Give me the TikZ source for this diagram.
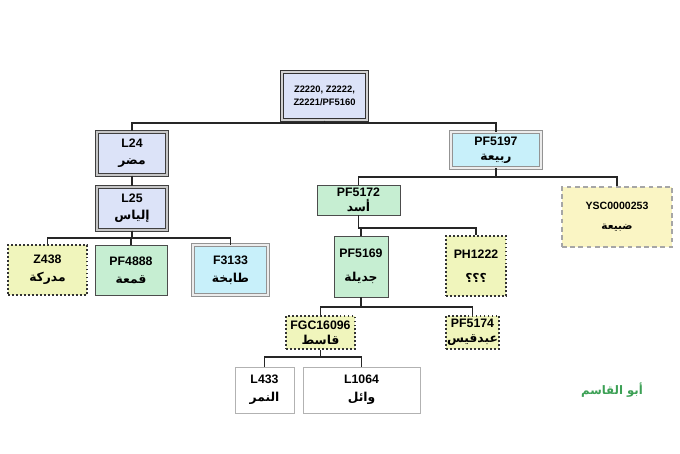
\documentclass[tikz,border=0pt]{standalone}
\usepackage{fontspec}
\setmainfont{Liberation Sans}
\newfontfamily\arabicfont[Script=Arabic]{DejaVu Sans}
\TeXXeTstate=1
\usepackage{tikz}
\newcommand{\arab}[1]{{\arabicfont\bfseries\beginR #1\endR}}
\definecolor{lavfill}{RGB}{220,227,248}
\definecolor{cyanfill}{RGB}{200,240,250}
\definecolor{grnfill}{RGB}{198,238,210}
\definecolor{yelfill}{RGB}{240,245,188}
\definecolor{palefill}{RGB}{250,245,196}
\definecolor{namegreen}{RGB}{60,160,85}
\tikzset{
  bsize/.style 2 args={minimum width=#1*0.03cm, minimum height=#2*0.03cm},
  tag/.style={inner sep=0pt, align=center, font=\bfseries\fontsize{10.5}{12.5}\selectfont},
  rootbox/.style={tag, fill=lavfill, draw=black!80, line width=1pt, double=gray!35, double distance=1.6pt},
  lavbox/.style={tag, fill=lavfill, draw=black!75, line width=1pt, double=gray!45, double distance=1.4pt},
  cyanbox/.style={tag, fill=cyanfill, draw=gray!85, line width=.7pt, double=gray!15, double distance=1.4pt},
  grnbox/.style={tag, fill=grnfill, draw=black!70, line width=.8pt},
  dotbox/.style={tag, fill=yelfill, draw=black!80, line width=1.6pt, dash pattern=on 1.6pt off 1.8pt},
  dashbox/.style={tag, fill=palefill, draw=gray!70, line width=1pt, dash pattern=on 4pt off 3pt},
  plainbox/.style={tag, fill=white, draw=gray!60, line width=.8pt},
  link/.style={draw=black!85, line width=1.1pt}
}
\begin{document}
\begin{tikzpicture}[x=0.03cm, y=-0.03cm]
\useasboundingbox (0,0) rectangle (680,454);
% top
\node[rootbox, bsize={85}{48}, font=\bfseries\fontsize{8}{11}\selectfont] (root) at (324.5,96) {Z2220, Z2222,\\Z2221/PF5160};
% left branch
\node[lavbox, bsize={70}{43}] (l24) at (132,153.5) {L24\\[2pt]\arab{مضر}};
\node[lavbox, bsize={70}{43}] (l25) at (132,208.5) {L25\\[2pt]\arab{إلياس}};
\node[dotbox, bsize={79}{50}] (z438) at (47.5,270) {Z438\\[3pt]\arab{مدركة}};
\node[grnbox, bsize={72}{50}] (pf4888) at (131,270) {PF4888\\[3pt]\arab{قمعة}};
\node[cyanbox, bsize={75}{50}] (f3133) at (230.5,270) {F3133\\[3pt]\arab{طابخة}};
% right branch
\node[cyanbox, bsize={90}{36}] (pf5197) at (496,150) {PF5197\\\arab{ربيعة}};
\node[grnbox, bsize={83}{30}] (pf5172) at (358.5,200) {PF5172\\\arab{أسد}};
\node[dashbox, bsize={110}{60}, font=\bfseries\fontsize{9}{11}\selectfont] (ysc) at (617,217) {YSC0000253\\[6pt]\arab{ضبيعة}};
\node[grnbox, bsize={54}{61}] (pf5169) at (361,266.5) {PF5169\\[8pt]\arab{جديلة}};
\node[dotbox, bsize={60}{60}] (ph1222) at (476,266) {PH1222\\[8pt]\arab{؟؟؟}};
\node[dotbox, bsize={69}{33}] (fgc) at (320.5,332.5) {FGC16096\\\arab{قاسط}};
\node[dotbox, bsize={53}{33}] (pf5174) at (472.5,332.5) {PF5174\\\arab{عبدقيس}};
\node[plainbox, bsize={59}{46}] (l433) at (264.5,390) {L433\\[3pt]\arab{النمر}};
\node[plainbox, bsize={117}{46}] (l1064) at (361.5,390) {L1064\\[3pt]\arab{وائل}};
\node[text=namegreen, font=\bfseries\fontsize{10}{12}\selectfont] (sign) at (612,390) {\arab{أبو القاسم}};
% connectors
\draw[link] (root.south) -- (root.south |- 0,123) -| (l24.north);
\draw[link] (root.south) -- (root.south |- 0,123) -| (pf5197.north);
\draw[link] (l24.south) -- (l25.north);
\foreach \kid in {z438,pf4888,f3133}
  \draw[link] (l25.south) -- (l25.south |- 0,238) -| (\kid.north);
\foreach \kid in {pf5172,ysc}
  \draw[link] (pf5197.south) -- (pf5197.south |- 0,177) -| (\kid.north);
\foreach \kid in {pf5169,ph1222}
  \draw[link] (pf5172.south) -- (pf5172.south |- 0,228) -| (\kid.north);
\foreach \kid in {fgc,pf5174}
  \draw[link] (pf5169.south) -- (pf5169.south |- 0,307) -| (\kid.north);
\foreach \kid in {l433,l1064}
  \draw[link] (fgc.south) -- (fgc.south |- 0,357) -| (\kid.north);
\end{tikzpicture}
\end{document}
